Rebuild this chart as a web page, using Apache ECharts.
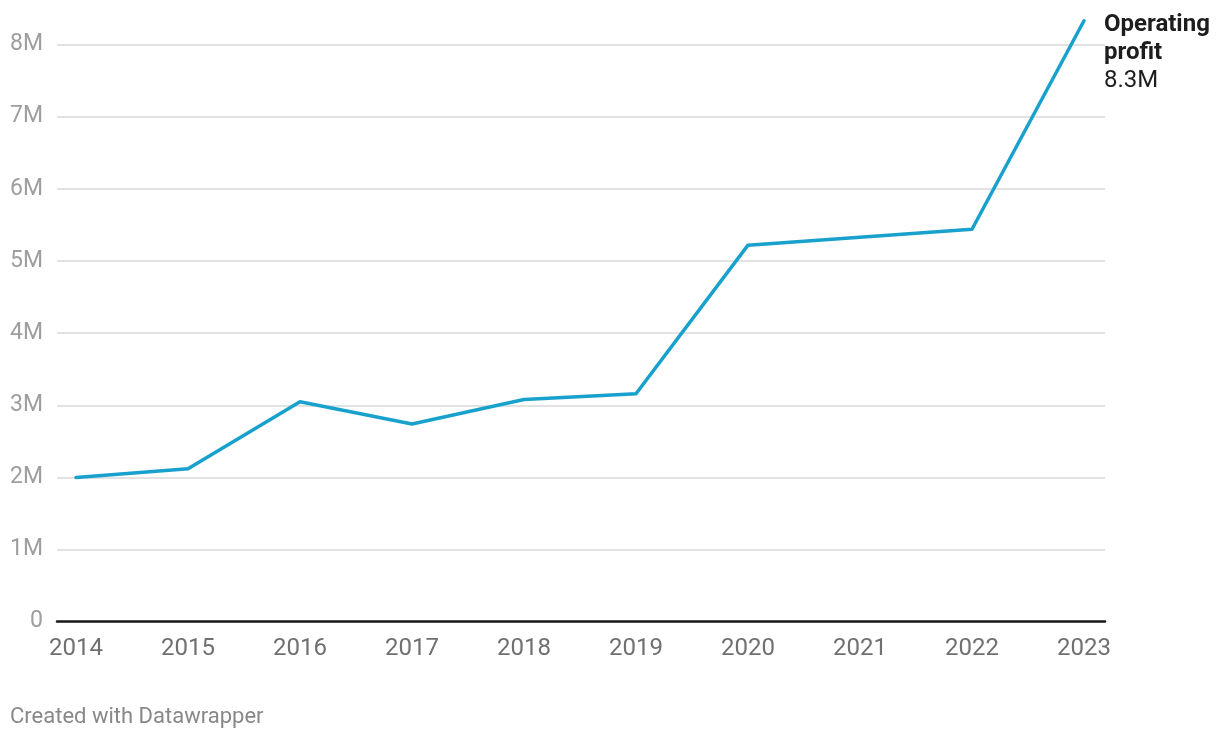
<!DOCTYPE html>
<html><head><meta charset="utf-8">
<script src="https://cdn.jsdelivr.net/npm/echarts@6/dist/echarts.min.js"></script>
<style>html,body{margin:0;padding:0;background:#fff}#c{width:1220px;height:738px}</style>
</head><body><div id="c"></div>
<script>
const years = ['2014','2015','2016','2017','2018','2019','2020','2021','2022','2023'];
const operatingProfit = [2.0, 2.12, 3.05, 2.74, 3.08, 3.16, 5.22, 5.33, 5.44, 8.33];
const yTicks = [0,1,2,3,4,5,6,7,8];
const seriesName = 'Operating profit';
const endValueLabel = '8.3M';

const chart = echarts.init(document.getElementById('c'), null, {renderer:'canvas'});
const font = 'Roboto, "Noto Sans", sans-serif';
const gTop = 44.6, gBottom = 116.3;
chart.setOption({
  animation:false,
  backgroundColor:'#fff',
  grid:[
    {left:57, right:115, top:gTop, bottom:gBottom, containLabel:false},
    {left:76, right:136, top:gTop, bottom:gBottom, containLabel:false}
  ],
  xAxis:[
    {gridIndex:0, type:'category', data:years, boundaryGap:false,
     axisLine:{show:true, lineStyle:{color:'#1a1a1a', width:2.5}},
     axisTick:{show:false}, axisLabel:{show:false}, splitLine:{show:false}},
    {gridIndex:1, type:'category', data:years, boundaryGap:false,
     axisLine:{show:false}, axisTick:{show:false}, splitLine:{show:false},
     axisLabel:{color:'#707070', fontSize:24, fontFamily:font, margin:15}}
  ],
  yAxis:[
    {gridIndex:0, type:'value', min:yTicks[0], max:yTicks[yTicks.length-1], interval:1,
     axisLine:{show:false}, axisTick:{show:false},
     splitLine:{show:true, lineStyle:{color:'#e2e2e2', width:2}},
     axisLabel:{color:'#9e9e9e', fontSize:23, fontFamily:font, margin:14,
       formatter:v => v===0 ? '0' : v+'M'}},
    {gridIndex:1, type:'value', min:yTicks[0], max:yTicks[yTicks.length-1], interval:1,
     show:false, splitLine:{show:false}}
  ],
  series:[{
    name:seriesName, type:'line', xAxisIndex:1, yAxisIndex:1, data:operatingProfit,
    clip:false, showSymbol:false, symbol:'none',
    lineStyle:{color:'#18a1cd', width:3.5, join:'round', cap:'round'},
    endLabel:{show:true, distance:20, align:'left', verticalAlign:'top', offset:[0,-10],
      formatter:() => '{b|Operating}\n{b|profit}\n{n|' + endValueLabel + '}',
      rich:{
        b:{fontFamily:font, fontWeight:'bold', fontSize:24, color:'#1d1d1d', lineHeight:28},
        n:{fontFamily:font, fontSize:24, color:'#1d1d1d', lineHeight:28}
      }}
  }],
  graphic:[{type:'text', left:10, top:706,
    style:{text:'Created with Datawrapper', fill:'#888888', fontSize:22, fontFamily:font}}]
});
</script></body></html>
